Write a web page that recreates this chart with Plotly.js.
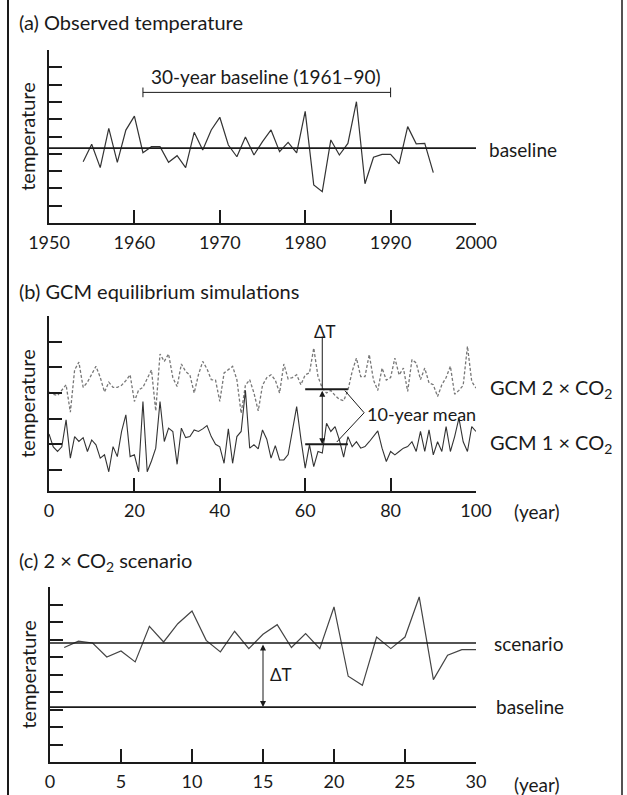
<!DOCTYPE html>
<html>
<head>
<meta charset="utf-8">
<script src="https://cdn.plot.ly/plotly-3.0.1.min.js"></script>
<style>html,body{margin:0;padding:0;background:#fff;}#chart{width:627px;height:795px;}</style>
</head>
<body>
<div id="chart"></div>
<script>
// ---------- DATA ----------
// (a) observed temperature
const obsYears = [1954,1955,1956,1957,1958,1959,1960,1961,1962,1963,1964,1965,1966,1967,1968,1969,1970,1971,1972,1973,1974,1975,1976,1977,1978,1979,1980,1981,1982,1983,1984,1985,1986,1987,1988,1989,1990,1991,1992,1993,1994,1995];
const obsTemp  = [3.54,4.55,3.20,5.47,3.51,5.37,6.18,4.06,4.41,4.41,3.51,3.89,3.20,5.24,4.22,5.38,6.11,4.51,3.83,4.97,3.93,4.70,5.38,4.12,4.66,4.06,6.45,2.20,1.81,4.80,3.93,4.60,7.01,2.27,3.80,3.97,3.97,3.42,5.57,4.58,4.60,2.91];
const obsBaseline = 4.33;
const baselinePeriod = [1961, 1990];
const obsTicks = [1950,1960,1970,1980,1990,2000];

// (b) GCM equilibrium simulations
const gcmYears = [0,1,2,3,4,5,6,7,8,9,10,11,12,13,14,15,16,17,18,19,20,21,22,23,24,25,26,27,28,29,30,31,32,33,34,35,36,37,38,39,40,41,42,43,44,45,46,47,48,49,50,51,52,53,54,55,56,57,58,59,60,61,62,63,64,65,66,67,68,69,70,71,72,73,74,75,76,77,78,79,80,81,82,83,84,85,86,87,88,89,90,91,92,93,94,95,96,97,98,99,100];
const gcm2xCO2 = [4.04,3.95,3.90,4.10,4.32,3.25,4.90,5.20,4.22,4.42,4.71,5.04,4.61,4.04,4.42,4.22,4.22,4.30,4.48,4.71,3.67,4.12,4.22,4.58,4.90,3.30,5.52,5.23,5.52,4.60,4.25,5.13,4.84,4.70,4.00,4.71,5.23,4.94,4.52,4.50,3.67,4.78,4.90,5.04,4.52,3.21,4.30,4.52,4.00,3.30,4.30,4.60,4.71,4.50,4.00,5.13,4.55,4.60,4.71,4.32,4.71,4.78,5.75,4.64,4.19,4.00,4.10,3.90,3.75,3.70,4.10,4.84,5.36,4.64,4.64,5.50,4.50,4.10,4.97,4.50,4.60,5.36,4.70,4.97,4.06,5.30,5.17,4.52,4.97,4.39,4.32,3.86,4.32,4.60,5.04,3.95,4.10,4.30,5.82,4.45,4.19];
const gcm1xCO2 = [2.40,1.90,1.72,1.90,2.95,1.46,2.30,2.11,2.26,1.72,2.17,1.98,1.46,1.59,0.93,1.91,1.52,2.50,3.15,1.52,1.59,0.93,3.67,0.93,1.35,1.85,3.67,2.11,2.63,2.50,1.22,2.63,2.26,2.30,2.56,2.50,2.60,2.73,2.30,2.00,1.90,1.26,2.60,1.26,2.30,2.50,4.10,1.85,1.98,1.82,2.56,2.20,1.46,1.95,1.39,1.39,1.60,2.60,3.47,2.20,1.07,1.98,1.13,1.72,1.66,2.82,2.50,2.69,2.17,1.50,2.30,1.91,2.10,1.85,1.91,2.10,2.30,2.52,1.85,1.33,1.72,1.59,1.72,1.85,1.91,2.10,1.72,2.50,1.72,2.56,1.59,2.10,1.72,2.69,1.72,2.30,3.02,2.10,1.72,2.69,2.50];
const meanPeriod = [60, 70];
const meanValues = [4.15, 2.00];   // 10-year means: 2xCO2, 1xCO2
const gcmTicks = [0,20,40,60,80,100];

// (c) 2 x CO2 scenario
const scnYears = [1,2,3,4,5,6,7,8,9,10,11,12,13,14,15,16,17,18,19,20,21,22,23,24,25,26,27,28,29,30];
const scnTemp  = [6.54,6.91,6.80,6.00,6.34,5.72,7.75,6.86,7.90,8.63,6.95,6.29,7.47,6.48,7.30,7.85,6.54,7.34,6.48,8.86,4.90,4.38,7.14,6.48,7.14,9.43,4.71,6.10,6.42,6.42];
const scnLevel = 6.80;
const scnBaseline = 3.14;
const scnTicks = [0,5,10,15,20,25,30];

// ---------- LAYOUT HELPERS ----------
const W = 627, H = 795, ML = 49, MR = 151;
const PW = W - ML - MR;
const px = x => (x - ML) / PW;
const py = y => 1 - y / H;
const FONT = 'Lato, "Open Sans", sans-serif';
const INK = '#1a1a1a';

function xAxis(dom, range, ticks, anchor) {
  return {
    domain: dom, range: range, anchor: anchor,
    showline: true, linecolor: INK, linewidth: 2,
    ticks: 'inside', ticklen: 13, tickwidth: 2, tickcolor: INK,
    tickmode: 'array', tickvals: ticks, ticktext: ticks.map(String),
    showgrid: false, zeroline: false, fixedrange: true,
    tickfont: {family: FONT, size: 18, color: INK},
    ticklabelstandoff: 2
  };
}
function yAxis(dom, range, ticks, anchor) {
  return {
    domain: dom, range: range, anchor: anchor,
    showline: true, linecolor: INK, linewidth: 2,
    ticks: 'inside', ticklen: 13, tickwidth: 2, tickcolor: INK,
    tickmode: 'array', tickvals: ticks, showticklabels: false,
    showgrid: false, zeroline: false, fixedrange: true,
    title: {text: 'temperature', font: {family: FONT, size: 20, color: INK}, standoff: 6}
  };
}

const traces = [
  {x: obsYears, y: obsTemp, xaxis: 'x', yaxis: 'y', mode: 'lines',
   line: {color: '#333', width: 1.2}, hoverinfo: 'skip'},
  {x: gcmYears, y: gcm2xCO2, xaxis: 'x2', yaxis: 'y2', mode: 'lines',
   line: {color: '#777', width: 1.3, dash: '3px,2px'}, hoverinfo: 'skip'},
  {x: gcmYears, y: gcm1xCO2, xaxis: 'x2', yaxis: 'y2', mode: 'lines',
   line: {color: '#333', width: 1.1}, hoverinfo: 'skip'},
  {x: scnYears, y: scnTemp, xaxis: 'x3', yaxis: 'y3', mode: 'lines',
   line: {color: '#444', width: 1.2}, hoverinfo: 'skip'}
];

const line = (xref, yref, x0, y0, x1, y1, w, c) => ({type: 'line', xref, yref, x0, y0, x1, y1, line: {color: c || INK, width: w}});

const shapes = [
  // figure frame
  line('paper', 'paper', px(8), 0, px(8), 1, 2),
  line('paper', 'paper', px(622), 0, px(622), 1, 1.5),
  // (a) baseline and bracket
  line('x', 'y', 1950, obsBaseline, 2000, obsBaseline, 1.8),
  line('x', 'y', baselinePeriod[0], 7.55, baselinePeriod[1], 7.55, 1),
  line('x', 'y', baselinePeriod[0], 7.27, baselinePeriod[0], 7.83, 1),
  line('x', 'y', baselinePeriod[1], 7.27, baselinePeriod[1], 7.83, 1),
  // (b) 10-year means
  line('x2', 'y2', meanPeriod[0], meanValues[0], meanPeriod[1], meanValues[0], 2),
  line('x2', 'y2', meanPeriod[0], meanValues[1], meanPeriod[1], meanValues[1], 2),
  line('x2', 'y2', 64, meanValues[0], 64, 6.2, 1),
  // (b) ">" bracket
  line('x2', 'y2', 69.3, 4.09, 73.8, 3.23, 1),
  line('x2', 'y2', 73.8, 3.23, 67.4, 2.09, 1),
  // (c) scenario and baseline levels
  line('x3', 'y3', 0, scnLevel, 30.5, scnLevel, 1.5),
  line('x3', 'y3', 0, scnBaseline, 30.6, scnBaseline, 1.8)
];

const txt = (text, x, y, xanchor, size, extra) => Object.assign({
  text, x: px(x), y: py(y), xref: 'paper', yref: 'paper', xanchor: xanchor || 'left', yanchor: 'middle',
  showarrow: false, font: {family: FONT, size: size || 19, color: INK}
}, extra || {});

const annotations = [
  txt('(a) Observed temperature', 17, 22, 'left', 20),
  txt('30-year baseline (1961–90)', 266, 77, 'center', 19),
  txt('baseline', 487, 150, 'left', 19),
  txt('(b) GCM equilibrium simulations', 17, 291, 'left', 20),
  txt('ΔT', 325, 331, 'center', 17),
  txt('10-year mean', 365, 414, 'left', 18),
  txt('GCM 2 × CO<sub>2</sub>', 488, 388, 'left', 20),
  txt('GCM 1 × CO<sub>2</sub>', 488, 443, 'left', 20),
  txt('(year)', 537, 511, 'center', 19),
  txt('(c) 2 × CO<sub>2</sub> scenario', 17, 561, 'left', 20),
  txt('ΔT', 268, 674, 'left', 17),
  txt('scenario', 492, 643, 'left', 19),
  txt('baseline', 494, 706, 'left', 19),
  txt('(year)', 537, 784, 'center', 19),
  // double-headed arrows
  {x: 64, y: meanValues[1], ax: 64, ay: meanValues[0], xref: 'x2', yref: 'y2', axref: 'x2', ayref: 'y2',
   showarrow: true, arrowside: 'end+start', arrowhead: 2, arrowsize: 1.2, arrowwidth: 1, arrowcolor: INK, text: ''},
  {x: 15, y: scnBaseline, ax: 15, ay: scnLevel, xref: 'x3', yref: 'y3', axref: 'x3', ayref: 'y3',
   showarrow: true, arrowside: 'end+start', arrowhead: 2, arrowsize: 1.2, arrowwidth: 1, arrowcolor: INK, text: ''}
];

const layout = {
  width: W, height: H,
  margin: {l: ML, r: MR, t: 0, b: 0},
  paper_bgcolor: '#fff', plot_bgcolor: 'rgba(0,0,0,0)',
  showlegend: false,
  font: {family: FONT, color: INK},
  xaxis:  xAxis([0, 1], [1950, 2000], obsTicks, 'y'),
  yaxis:  yAxis([py(223), py(50)], [0, 10], [1,2,3,4,5,6,7,8,9,10], 'x'),
  xaxis2: xAxis([0, 1], [0, 100], gcmTicks, 'y2'),
  yaxis2: yAxis([py(491), py(316)], [0.18, 7.0], [1,2,3,4,5,6,7], 'x2'),
  xaxis3: xAxis([px(50), 1], [0, 30], scnTicks, 'y3'),
  yaxis3: yAxis([py(762), py(587)], [0, 10], [1,2,3,4,5,6,7,8,9,10], 'x3'),
  shapes, annotations
};

Plotly.newPlot('chart', traces, layout, {staticPlot: true, displayModeBar: false});
</script>
</body>
</html>
